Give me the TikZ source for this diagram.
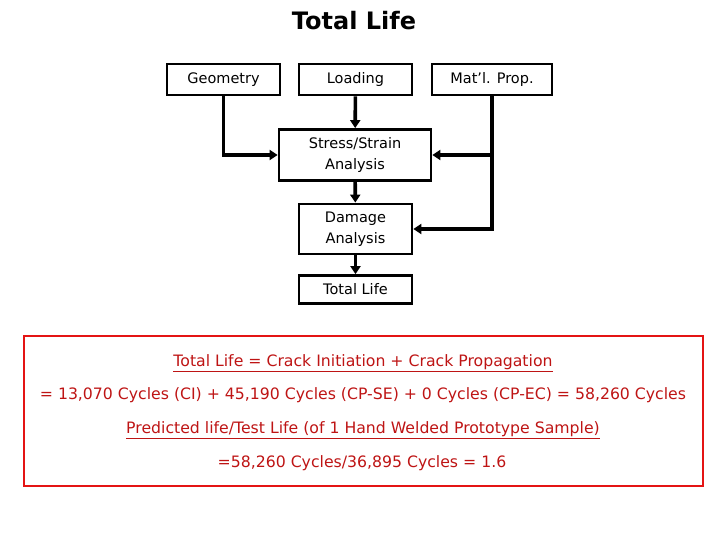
\documentclass[tikz,border=0pt]{standalone}
\usepackage{fontspec}
\setmainfont{DejaVu Sans}
\usetikzlibrary{arrows.meta}
\definecolor{redline}{RGB}{228,20,20}
\definecolor{redtext}{RGB}{190,20,20}
\begin{document}
\begin{tikzpicture}[x=1pt,y=-1pt,
  box/.style={draw=black,line width=2.8pt,inner sep=0pt,align=center,font=\fontsize{14.5}{21}\selectfont},
  conn/.style={line width=3.6pt,-{Triangle[length=8pt,width=10pt]}},
  plain/.style={line width=3.6pt},
  redtxt/.style={text=redtext,font=\fontsize{15.7}{18}\selectfont,inner sep=0pt}]
\useasboundingbox (0,0) rectangle (720,540);
\node[font=\bfseries\fontsize{24}{28}\selectfont] (title) at (354,21) {Total Life};
\node[box,minimum width=113pt,minimum height=31pt] (geo) at (223.5,79.5) {Geometry};
\node[box,minimum width=113pt,minimum height=31pt] (load) at (355.5,79.5) {Loading};
\node[box,minimum width=120pt,minimum height=31pt] (mat) at (492,79.5) {Mat’l. Prop.};
\node[box,minimum width=152pt,minimum height=51pt] (ss) at (355,155) {Stress/Strain\\Analysis};
\node[box,minimum width=113pt,minimum height=50pt] (dam) at (355.5,229) {Damage\\Analysis};
\node[box,minimum width=113pt,minimum height=28pt] (tl) at (355.5,289.5) {Total Life};
\draw[conn] (load) -- (ss);
\draw[conn] (ss) -- (dam);
\draw[conn] (dam) -- (tl);
\draw[conn] (geo.south) |- (ss.west);
\coordinate (mj) at (492,155);
\draw[plain] (mat.south) -- (mj);
\draw[conn] (mj) -- (ss.east);
\draw[conn] (mj) |- (dam.east);
\node[draw=redline,line width=2.8pt,minimum width=679pt,minimum height=150pt,inner sep=0pt] (rb) at (363.5,411) {};
\node[redtxt] (l1) at (363,363) {\underline{Total Life = Crack Initiation + Crack Propagation}};
\node[redtxt] (l2) at (363,395) {= 13,070 Cycles (CI) + 45,190 Cycles (CP-SE) + 0 Cycles (CP-EC) = 58,260 Cycles};
\node[redtxt] (l3) at (363,430) {\underline{Predicted life/Test Life (of 1 Hand Welded Prototype Sample)}};
\node[redtxt] (l4) at (362,463) {=58,260 Cycles/36,895 Cycles = 1.6};
\end{tikzpicture}
\end{document}
